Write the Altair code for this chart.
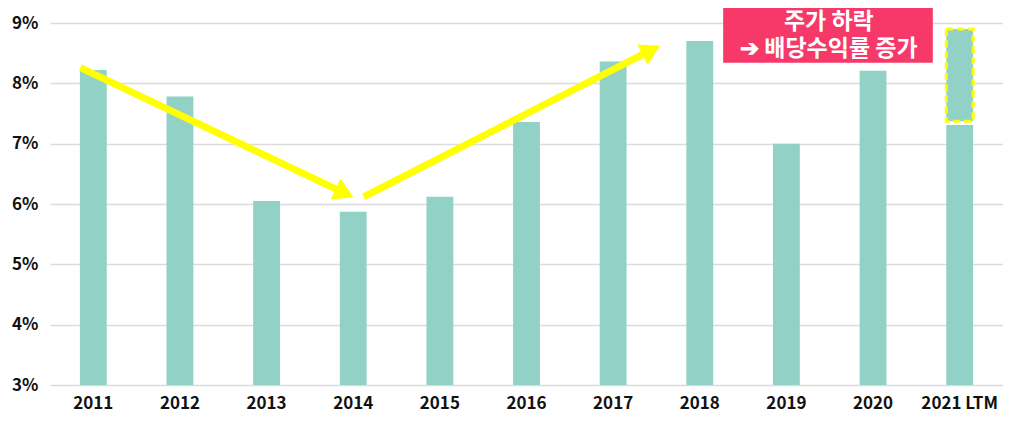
import altair as alt
import pandas as pd

# ---- data ----
years = ["2011", "2012", "2013", "2014", "2015", "2016", "2017", "2018", "2019", "2020", "2021 LTM"]
yields = [8.22, 7.78, 6.05, 5.87, 6.12, 7.36, 8.36, 8.70, 7.00, 8.21, 7.31]
baseline = 3.0

# dashed highlight on last bar
hl_year = ["2021 LTM"]
hl_low = [7.37]
hl_high = [8.90]

# arrows (x in category units: category i centre = i + 0.5)
arrow_x0 = [0.35, 3.62]
arrow_y0 = [8.26, 6.12]
arrow_x1 = [3.40, 6.94]
arrow_y1 = [6.18, 8.55]
arrow_angle = [25.5, 333.1]

# annotation box
note_lines = ["주가 하락", "➔ 배당수익률 증가"]
note_x = [8.99, 8.99]
note_y = [9.01, 8.575]
box_x0 = [7.77]
box_x1 = [10.19]
box_y0 = [9.26]
box_y1 = [8.34]

TEAL = "#92d2c6"
YELLOW = "#ffff00"
PINK = "#f7396a"
FONT = "Noto Sans CJK KR"

ydom = alt.Scale(domain=[3, 9], nice=False, zero=False)
xq = alt.Scale(domain=[0, 11], nice=False, zero=False)
band = alt.Scale(paddingInner=0.69, paddingOuter=0.345)

bars_df = pd.DataFrame({"year": years, "value": yields, "base": [baseline] * len(years)})
hl_df = pd.DataFrame({"year": hl_year, "low": hl_low, "high": hl_high})
arrow_df = pd.DataFrame({"x0": arrow_x0, "y0": arrow_y0, "x1": arrow_x1, "y1": arrow_y1, "angle": arrow_angle})
note_df = pd.DataFrame({"text": note_lines, "x": note_x, "y": note_y})
box_df = pd.DataFrame({"x0": box_x0, "x1": box_x1, "y0": box_y0, "y1": box_y1})

yaxis = alt.Axis(title=None, values=[3, 4, 5, 6, 7, 8, 9], labelExpr="datum.value + '%'",
                 ticks=False, domain=False, labelPadding=12, labelFontSize=17,
                 labelFontWeight="bold", labelColor="#111111", labelFont=FONT,
                 gridColor="#dcdcdc", gridWidth=1.5)

bars = alt.Chart(bars_df).mark_bar(color=TEAL).encode(
    x=alt.X("year:N", sort=years, scale=band,
            axis=alt.Axis(title=None, labelAngle=0, ticks=False, domain=False,
                          labelPadding=10, labelFontSize=17, labelFontWeight="bold",
                          labelColor="#111111", labelFont=FONT)),
    y=alt.Y("value:Q", scale=ydom, axis=yaxis),
    y2="base:Q",
)

hl = alt.Chart(hl_df).mark_bar(color=TEAL, stroke=YELLOW, strokeWidth=3, strokeDash=[7, 4]).encode(
    x=alt.X("year:N", sort=years, scale=band, title=None),
    y=alt.Y("high:Q", scale=ydom, axis=yaxis),
    y2="low:Q",
)

lines = alt.Chart(arrow_df).mark_rule(color=YELLOW, strokeWidth=7, strokeCap="butt").encode(
    x=alt.X("x0:Q", scale=xq, axis=None),
    x2="x1:Q",
    y=alt.Y("y0:Q", scale=ydom, axis=yaxis),
    y2="y1:Q",
)

heads = alt.Chart(arrow_df).mark_point(shape="triangle-right", filled=True, color=YELLOW,
                                       opacity=1, size=520).encode(
    x=alt.X("x1:Q", scale=xq, axis=None),
    y=alt.Y("y1:Q", scale=ydom, axis=yaxis),
    angle=alt.Angle("angle:Q", scale=None),
)

box = alt.Chart(box_df).mark_rect(color=PINK).encode(
    x=alt.X("x0:Q", scale=xq, axis=None),
    x2="x1:Q",
    y=alt.Y("y0:Q", scale=ydom, axis=yaxis),
    y2="y1:Q",
)

note = alt.Chart(note_df).mark_text(color="white", font=FONT, fontWeight="bold", fontSize=23,
                                    align="center", baseline="middle").encode(
    x=alt.X("x:Q", scale=xq, axis=None),
    y=alt.Y("y:Q", scale=ydom, axis=yaxis),
    text="text:N",
)

base_layer = alt.layer(bars, hl)
annot = alt.layer(lines, heads, box, note)

chart = alt.layer(base_layer, annot).resolve_scale(x="independent").properties(
    width=953, height=362,
    autosize=alt.AutoSizeParams(type="none"),
    padding={"left": 42, "top": 15, "right": 0, "bottom": 40},
).configure_view(stroke=None)

chart.save("out.html", embed_options={"renderer": "svg", "actions": False})
